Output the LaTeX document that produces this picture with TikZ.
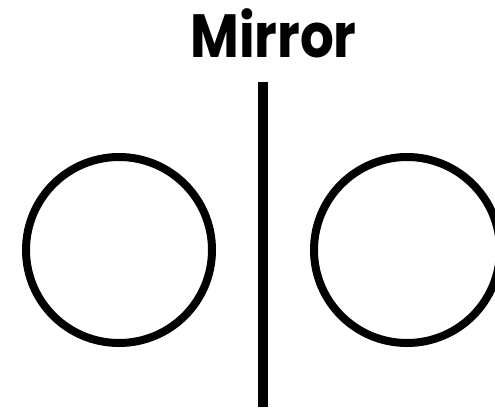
\documentclass[tikz,border=0pt]{standalone}
\usepackage{graphicx}
\usepackage{fontspec}
\newfontfamily\titlefont{Poppins}
\begin{document}
\begin{tikzpicture}[x=1pt,y=-1pt,
  ring/.style={circle, draw=black, line width=8pt, inner sep=0pt, minimum size=186pt},
  mirrorline/.style={line width=10pt, draw=black}]
\useasboundingbox (0,0) rectangle (495,407);
\clip (0,0) rectangle (495,407);
\node[font=\titlefont\bfseries\fontsize{61}{64}\selectfont, anchor=base, inner sep=0pt] (title) at (273.5,57) {\scalebox{0.87}[1]{Mirror}};
\coordinate (top) at (263,82);
\coordinate (bottom) at (263,407);
\draw[mirrorline] (top) -- (bottom);
\node[ring] (left) at (119,250) {};
\node[ring] (right) at (407,250) {};
\end{tikzpicture}
\end{document}
